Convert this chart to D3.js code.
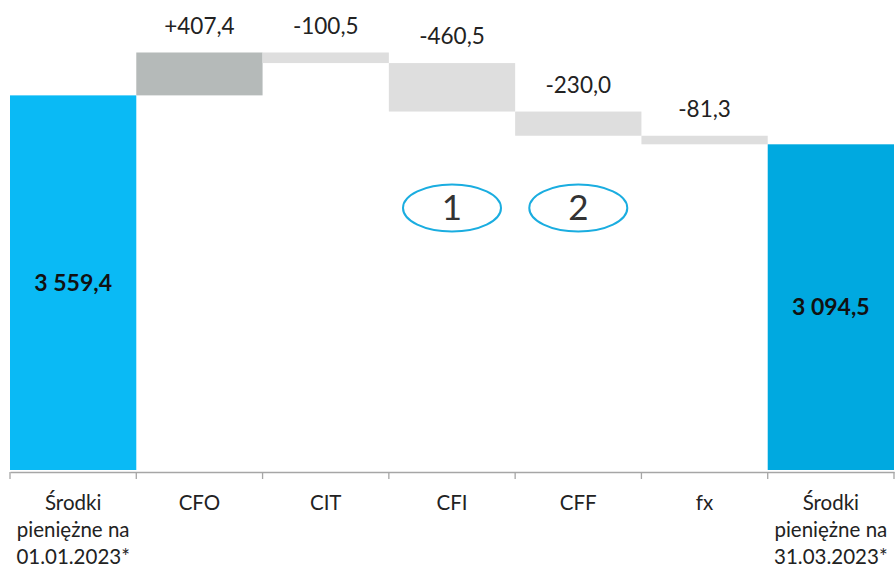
<!DOCTYPE html>
<html>
<head>
<meta charset="utf-8">
<script src="https://cdn.jsdelivr.net/npm/d3@7"></script>
<style>
  body { margin: 0; background: #fff; }
  svg { display: block; font-family: Lato, "Open Sans", sans-serif; }
</style>
</head>
<body>
<div id="chart"></div>
<script>
const categories = [
  "Środki\npieniężne na\n01.01.2023*",
  "CFO", "CIT", "CFI", "CFF", "fx",
  "Środki\npieniężne na\n31.03.2023*"
];
// first and last are totals, the rest are changes
const kinds = ["total", "delta", "delta", "delta", "delta", "delta", "total"];
const values = [3559.4, 407.4, -100.5, -460.5, -230.0, -81.3, 3094.5];
const valueLabels = ["3 559,4", "+407,4", "-100,5", "-460,5", "-230,0", "-81,3", "3 094,5"];
const markers = [{ cat: "CFI", text: "1" }, { cat: "CFF", text: "2" }];

const W = 895, H = 572;
const margin = { top: 49, right: 1, bottom: 102, left: 10 };
const width = W - margin.left - margin.right;
const height = H - margin.top - margin.bottom;

const svg = d3.select("#chart").append("svg")
  .attr("width", W).attr("height", H);
const g = svg.append("g")
  .attr("transform", `translate(${margin.left},${margin.top})`);

const x = d3.scaleBand().domain(categories).range([0, width]).padding(0);
const y = d3.scaleLinear().domain([0, 4000]).range([height, 0]);

// running totals for the waterfall
let run = 0;
const bars = values.map((v, i) => {
  let lo, hi;
  if (kinds[i] === "total") { lo = 0; hi = v; run = v; }
  else { const start = run; run += v; lo = Math.min(start, run); hi = Math.max(start, run); }
  return { cat: categories[i], kind: kinds[i], v, lo, hi, label: valueLabels[i], i };
});

const fill = d => {
  if (d.kind === "total") return d.i === 0 ? "#0abaf5" : "#00a9e0";
  return d.v > 0 ? "#b5bab9" : "#dedede";
};

g.selectAll(".bar").data(bars).enter().append("rect")
  .attr("class", "bar")
  .attr("x", d => x(d.cat))
  .attr("width", x.bandwidth())
  .attr("y", d => y(d.hi))
  .attr("height", d => y(d.lo) - y(d.hi))
  .attr("fill", fill);

// axis
const xAxis = d3.axisBottom(x).tickSize(0).tickFormat("");
const ax = g.append("g").attr("transform", `translate(0,${height + 2})`).call(xAxis);
ax.select(".domain").attr("stroke", "#a6a6a6").attr("stroke-width", 1.3);
// separator ticks on band edges
const edges = categories.map(c => x(c)).concat([x(categories[categories.length - 1]) + x.bandwidth()]);
ax.selectAll(".sep").data(edges).enter().append("line")
  .attr("x1", d => d).attr("x2", d => d)
  .attr("y1", 0).attr("y2", 7)
  .attr("stroke", "#a6a6a6").attr("stroke-width", 1.3);

// category labels
g.selectAll(".cat").data(categories).enter().append("text")
  .attr("class", "cat")
  .attr("x", d => x(d) + x.bandwidth() / 2)
  .attr("y", height + 40)
  .attr("text-anchor", "middle")
  .attr("fill", "#222")
  .style("font-size", "20.5px")
  .each(function (d) {
    d.split("\n").forEach((line, k) => {
      d3.select(this).append("tspan")
        .attr("x", x(d) + x.bandwidth() / 2)
        .attr("dy", k === 0 ? 0 : 27)
        .text(line);
    });
  });

// value labels
g.selectAll(".val").data(bars).enter().append("text")
  .attr("class", "val")
  .attr("x", d => x(d.cat) + x.bandwidth() / 2)
  .attr("y", d => d.kind === "total" ? (y(d.lo) + y(d.hi)) / 2 + 8 : y(d.hi) - 19)
  .attr("text-anchor", "middle")
  .attr("fill", d => d.kind === "total" ? "#111" : "#222")
  .style("font-size", d => d.kind === "total" ? "23px" : "22.5px")
  .style("font-weight", d => d.kind === "total" ? "bold" : "normal")
  .text(d => d.label);

// numbered ellipses
const mk = g.selectAll(".mk").data(markers).enter().append("g")
  .attr("transform", d => `translate(${x(d.cat) + x.bandwidth() / 2},${y(2490)})`);
mk.append("ellipse").attr("rx", 49).attr("ry", 23.5)
  .attr("fill", "#fff").attr("stroke", "#1aade0").attr("stroke-width", 2);
mk.append("text").attr("text-anchor", "middle").attr("dy", 12.5)
  .attr("fill", "#333").style("font-size", "35px")
  .text(d => d.text);
</script>
</body>
</html>
